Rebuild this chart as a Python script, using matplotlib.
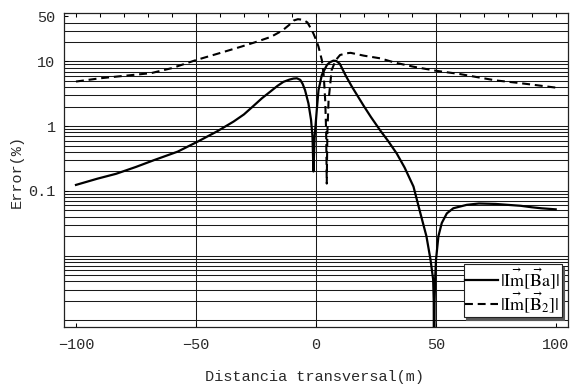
import matplotlib
matplotlib.use("Agg")
import matplotlib.pyplot as plt

plt.rcParams["mathtext.fontset"] = "stix"

# |Im[Ba]| error along the transverse profile
x_ba = [-100, -91, -83.3, -75, -67.4, -57.6, -49.2, -41.25, -34.3, -30, -26,
        -22.5, -19, -16, -13.5, -11, -9.3, -7.9, -6.5, -5.5, -4.5, -3.1,
        -2.0, -1.4, -1.0,
        -0.5, 0.4, 1.1, 2.5, 4.6, 5.8, 7.3, 8.5, 10, 12.5, 15, 17.5, 20, 23,
        26.75, 30, 33.7, 37, 40.7, 43.6, 46.1, 47.8, 48.9, 49.15, 49.3,
        49.5, 49.8, 50.1, 51.1, 52.5, 54.6, 57.3, 62.9, 68, 75, 80, 85.4,
        90, 94, 100]
y_ba = [0.124, 0.155, 0.184, 0.235, 0.30, 0.405, 0.58, 0.83, 1.18, 1.52, 2.06,
        2.7, 3.42, 4.2, 4.85, 5.25, 5.45, 5.5, 5.2, 4.5, 3.6, 2.26,
        1.25, 0.69, 0.2,
        0.7, 1.8, 3.6, 6.2, 8.8, 9.7, 10.3, 10.2, 9.2, 6.0, 4.1, 2.9, 2.05, 1.38,
        0.87, 0.6, 0.38, 0.23, 0.117, 0.045, 0.02, 0.0087, 0.0043, 0.002, 1e-5,
        0.002, 0.005, 0.0087, 0.02, 0.032, 0.045, 0.054, 0.061, 0.064, 0.063,
        0.061, 0.059, 0.056, 0.054, 0.052]

# |Im[B2]| error along the transverse profile
x_b2 = [-100, -90, -80, -68.75, -60, -50, -40, -31, -25, -18.75, -14, -11,
        -9.2, -7.5, -5.2, -3.5, -2, -1, 0.0, 1.1, 2.5, 3.3, 3.9, 4.3, 4.55,
        4.8, 5.3, 6.6, 8.3, 10.1, 12.9, 14.5, 20, 26.75, 33, 40.7, 50, 60,
        68.75, 75, 82.6, 90, 96.5, 100]
y_b2 = [4.9, 5.5, 6.0, 6.6, 7.9, 10.5, 13.5, 17, 20, 24, 30, 37,
        43, 45, 44, 40, 32, 27, 22, 17, 10.5, 6, 2.5, 0.8, 0.13,
        0.8, 2.5, 7.4, 10.5, 12.6, 13.4, 13.6, 12.3, 11.2, 9.6, 8.3, 7.2, 6.4,
        5.6, 5.1, 4.75, 4.4, 4.1, 3.95]

x_ticks = [-100, -50, 0, 50, 100]
x_minor = list(range(-100, 101, 10))
y_ticks = [0.1, 1, 10, 50]
y_ticklabels = ["0.1", "1", "10", "50"]
x_grid = [-50, 0, 50]
y_grid = [k * 10.0 ** d for d in range(-3, 1) for k in range(1, 10)] + [10, 20, 30, 40]

label_ba = r"$|\vec{\mathrm{Im}}[\vec{\mathrm{B}}\mathrm{a}]|$"
label_b2 = r"$|\vec{\mathrm{Im}}[\vec{\mathrm{B}}_2]|$"

mono = "Liberation Mono"
txt_color = "#2a2a2a"

fig = plt.figure(figsize=(5.77, 3.90), dpi=100)
ax = fig.add_axes([64 / 577, 1 - 326.7 / 390, (567.7 - 64) / 577, (326.7 - 13.3) / 390])
ax.set_yscale("log")
ax.set_xlim(-105, 105)
ax.set_ylim(8.0e-4, 55.5)

for g in y_grid:
    ax.axhline(g, color="#1a1a1a", lw=0.75, zorder=1)
for g in x_grid:
    ax.axvline(g, color="#1a1a1a", lw=0.75, zorder=1)

ax.plot(x_ba, y_ba, color="black", lw=1.6, solid_joinstyle="round", zorder=3, label=label_ba)
ax.plot(x_b2, y_b2, color="black", lw=1.5, dashes=(3.8, 2.3), zorder=3, label=label_b2)

ax.set_xticks(x_ticks)
ax.set_xticks(x_minor, minor=True)
ax.set_xticklabels([str(v).replace("-", "\u2212") for v in x_ticks])
ax.set_yticks(y_ticks)
ax.set_yticklabels(y_ticklabels)
ax.yaxis.set_minor_locator(matplotlib.ticker.NullLocator())

ax.tick_params(axis="x", which="major", direction="in", length=3, width=0.75,
               top=True, bottom=True, pad=8, labelsize=11, labelcolor=txt_color)
ax.tick_params(axis="x", which="minor", direction="in", length=3, width=0.75,
               top=True, bottom=False)
ax.tick_params(axis="y", which="major", direction="in", length=3, width=0.75,
               left=True, right=False, pad=6, labelsize=11, labelcolor=txt_color)
for lab in ax.get_xticklabels() + ax.get_yticklabels():
    lab.set_family(mono)

for s in ax.spines.values():
    s.set_linewidth(0.9)
    s.set_color("#222222")

fig.text(17 / 577, 1 - 171.5 / 390, "Error(%)", rotation=90, ha="center", va="center",
         family=mono, fontsize=11, color=txt_color)
fig.text(314.7 / 577, 1 - 377 / 390, "Distancia transversal(m)", ha="center", va="center",
         family=mono, fontsize=11, color=txt_color)

leg = ax.legend(loc="lower right", bbox_to_anchor=(0.988, 0.031), borderaxespad=0,
                fontsize=13, handlelength=1.8, handletextpad=0.1, borderpad=0.1,
                labelspacing=0.0, fancybox=False, framealpha=1, edgecolor="#222222",
                shadow={"color": "0.35", "alpha": 1})
leg.get_frame().set_linewidth(0.8)
leg.set_zorder(5)

fig.savefig("out.png", dpi=100)
